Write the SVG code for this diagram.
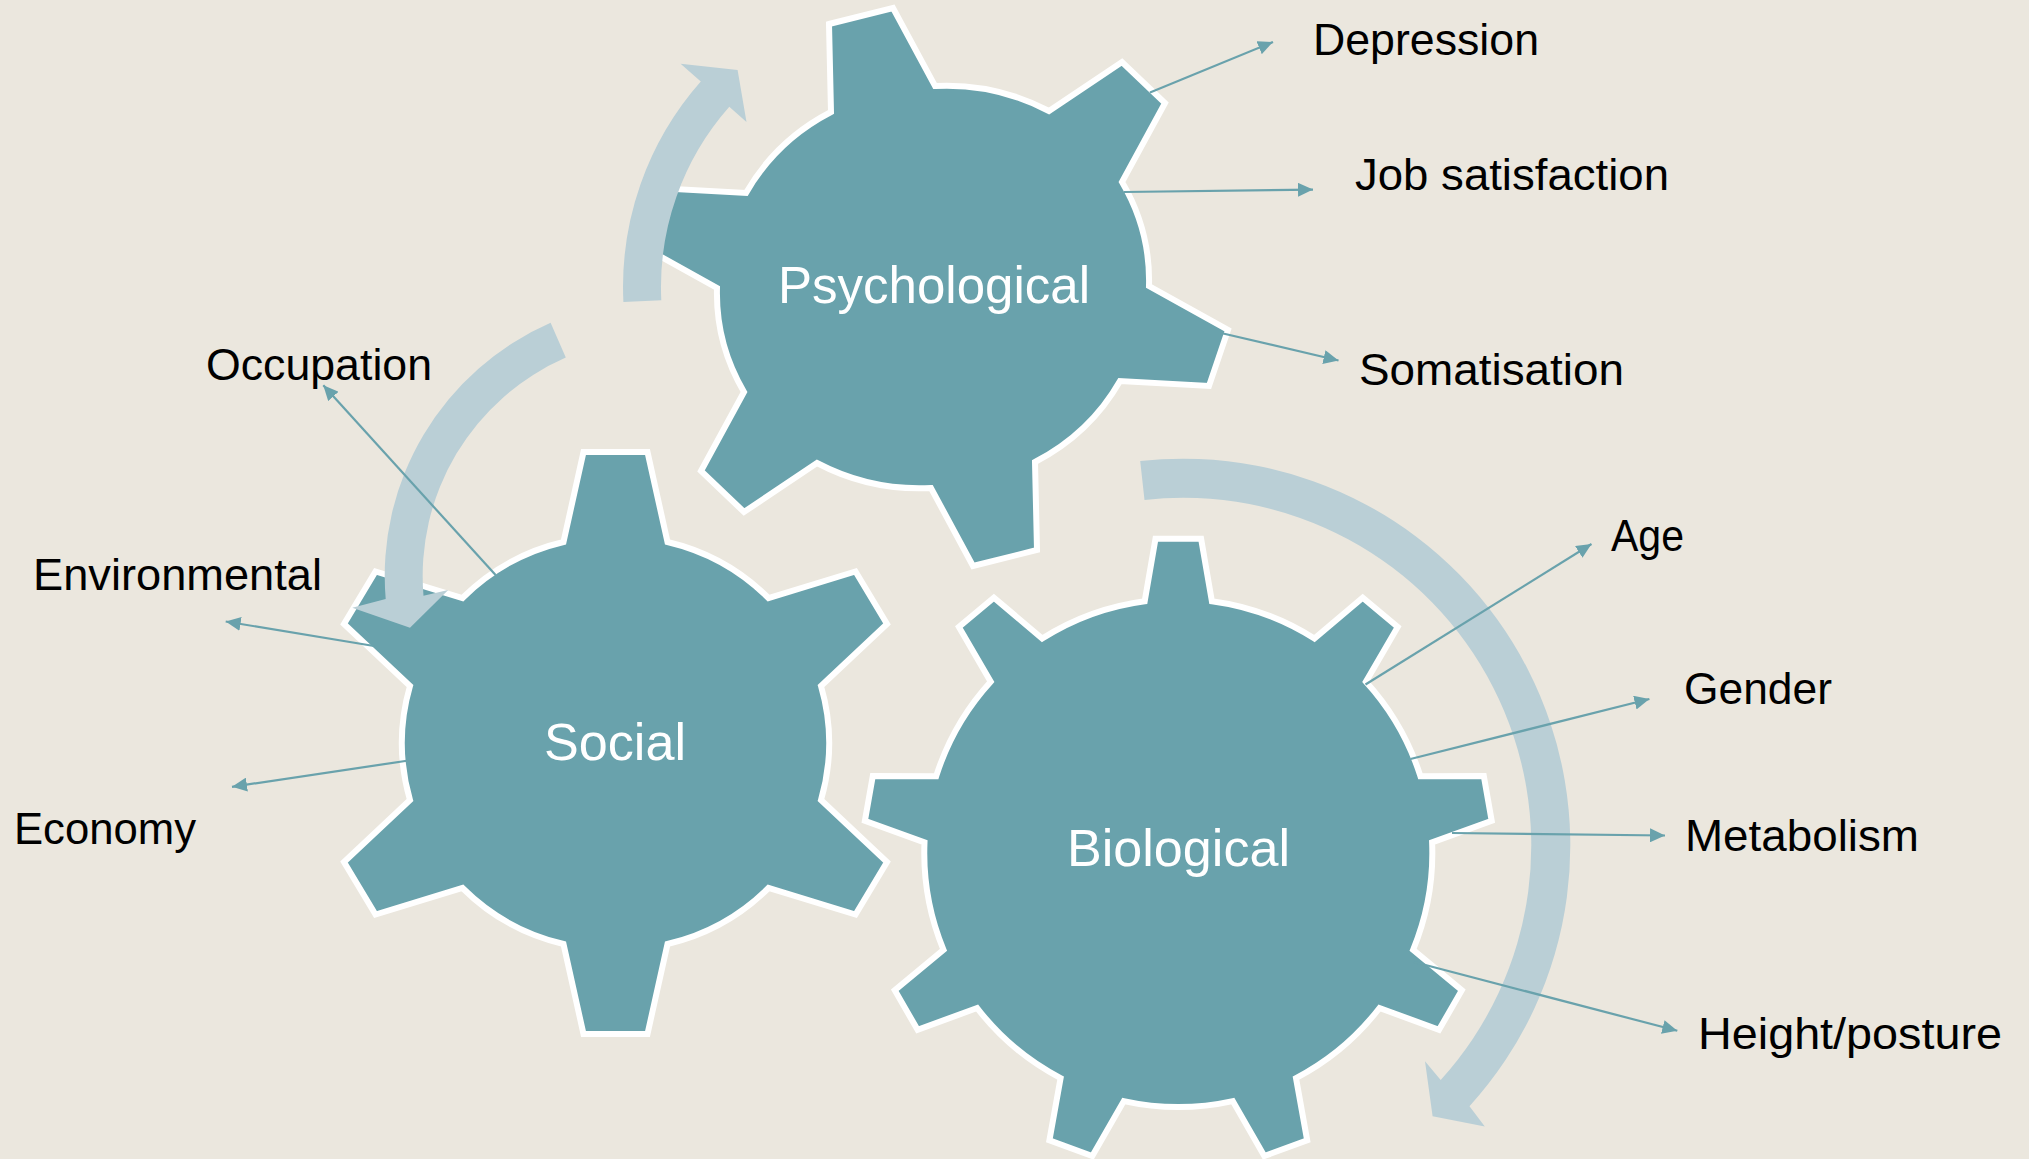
<svg xmlns="http://www.w3.org/2000/svg" width="2029" height="1159" viewBox="0 0 2029 1159">
  <style>
    .gear { fill: #69A2AC; stroke: #FFFFFF; stroke-width: 6; stroke-linejoin: miter; }
    .cycle { fill: #BACFD6; stroke: none; }
    .link { fill: none; stroke: #69A2AC; stroke-width: 2.2; marker-end: url(#tip); }
    .gear-label { font-family: "Liberation Sans", Arial, sans-serif; font-size: 52px; fill: #FFFFFF; }
    .factor { font-family: "Liberation Sans", Arial, sans-serif; font-size: 44.5px; fill: #000000; }
  </style>
  <defs>
    <marker id="tip" markerUnits="userSpaceOnUse" markerWidth="16" markerHeight="14" refX="15" refY="7" orient="auto">
      <path d="M0 0 L15 7 L0 14 Z" fill="#69A2AC"/>
    </marker>
  </defs>

  <rect x="0" y="0" width="2029" height="1159" fill="#EBE7DE"/>

  <!-- gears -->
  <g id="gear-psychological">
    <path class="gear" d="M829 24 L893 8 L935 86 A212 202 0 0 1 1049 111 L1122 62 L1165 103 L1122 182 A212 202 0 0 1 1149 286 L1228 330 L1209 386 L1120 381 A212 202 0 0 1 1035 462 L1037 550 L973 566 L931 488 A212 202 0 0 1 817 463 L744 512 L701 471 L744 392 A212 202 0 0 1 717 288 L638 244 L657 188 L746 193 A212 202 0 0 1 831 112 Z"/>
  </g>
  <g id="gear-social">
    <path class="gear" d="M583.5 452 L647.5 452 L667.5 542 A211 208 0 0 1 768.5 598 L855.5 571.5 L887 624 L821 686 A211 208 0 0 1 821 800 L887 862 L855.5 914.5 L768.5 888 A211 208 0 0 1 667.5 944 L647.5 1034 L583.5 1034 L563.5 944 A211 208 0 0 1 462.5 888 L375.5 914.5 L344 862 L410 800 A211 208 0 0 1 410 686 L344 624 L375.5 571.5 L462.5 598 A211 208 0 0 1 563.5 542 Z"/>
  </g>
  <g id="gear-biological">
    <path class="gear" d="M1155.5 538.8 L1201.1 538.8 L1211.9 601.2 A254 254 0 0 1 1314.4 638.5 L1362.7 597.6 L1397.7 627 L1365.9 681.7 A254 254 0 0 1 1420.4 776.2 L1483.8 776 L1491.7 820.9 L1432.1 842.4 A254 254 0 0 1 1413.1 949.8 L1461.8 990.3 L1439 1029.8 L1379.5 1008 A254 254 0 0 1 1296 1078.1 L1307.2 1140.4 L1264.3 1156 L1232.8 1101.1 A254 254 0 0 1 1123.8 1101.1 L1092.3 1156 L1049.4 1140.4 L1060.6 1078.1 A254 254 0 0 1 977.1 1008 L917.6 1029.8 L894.8 990.3 L943.5 949.8 A254 254 0 0 1 924.5 842.4 L864.9 820.9 L872.8 776 L936.2 776.2 A254 254 0 0 1 990.7 681.7 L958.9 627 L993.9 597.6 L1042.2 638.5 A254 254 0 0 1 1144.7 601.2 Z"/>
  </g>

  <!-- circular arrows turning the gears -->
  <g id="cycle-arrows">
    <path class="cycle" d="M623.4 302.1 A310 310 0 0 1 700.8 81.6 L680.6 63.7 L737.6 70 L746.5 122 L729.3 106.8 A272 272 0 0 0 661.3 300.3 Z"/>
    <path class="cycle" d="M550.6 322.8 A276 276 0 0 0 385.7 599 L352.3 607.8 L410 627.8 L448.2 590 L423.5 595.8 A238 238 0 0 1 565.8 357.6 Z"/>
    <path class="cycle" d="M1140.2 461.1 A387 387 0 0 1 1469.5 1106.2 L1484.8 1126.4 L1432.6 1116.3 L1425 1061.3 L1440.7 1079.9 A348 348 0 0 0 1144.5 499.9 Z"/>
  </g>

  <!-- connectors from each gear to its factors -->
  <g id="connectors">
    <path class="link" d="M1150 92.6 L1273 42"/>
    <path class="link" d="M1124 192 L1313 189.6"/>
    <path class="link" d="M1221 333 L1338.5 360.5"/>
    <path class="link" d="M495.6 575 L323.3 385.3"/>
    <path class="link" d="M374 646 L225.7 621.5"/>
    <path class="link" d="M408.5 760.5 L232 786.8"/>
    <path class="link" d="M1365.5 684.5 L1591.5 544"/>
    <path class="link" d="M1410.5 759 L1649.4 699"/>
    <path class="link" d="M1452 833 L1665 835.5"/>
    <path class="link" d="M1414 962 L1677.3 1030.8"/>
  </g>

  <!-- gear titles -->
  <g id="label-psychological"><text class="gear-label" x="778" y="303" textLength="312" lengthAdjust="spacingAndGlyphs">Psychological</text></g>
  <g id="label-social"><text class="gear-label" x="544" y="760" textLength="142" lengthAdjust="spacingAndGlyphs">Social</text></g>
  <g id="label-biological"><text class="gear-label" x="1067" y="866" textLength="223" lengthAdjust="spacingAndGlyphs">Biological</text></g>

  <!-- factor labels -->
  <g id="factor-depression"><text class="factor" x="1313" y="55" textLength="226" lengthAdjust="spacingAndGlyphs">Depression</text></g>
  <g id="factor-job-satisfaction"><text class="factor" x="1355" y="190" textLength="314" lengthAdjust="spacingAndGlyphs">Job satisfaction</text></g>
  <g id="factor-somatisation"><text class="factor" x="1359" y="385" textLength="265" lengthAdjust="spacingAndGlyphs">Somatisation</text></g>
  <g id="factor-occupation"><text class="factor" x="206" y="380" textLength="226" lengthAdjust="spacingAndGlyphs">Occupation</text></g>
  <g id="factor-environmental"><text class="factor" x="33" y="590" textLength="289" lengthAdjust="spacingAndGlyphs">Environmental</text></g>
  <g id="factor-economy"><text class="factor" x="14" y="844" textLength="182" lengthAdjust="spacingAndGlyphs">Economy</text></g>
  <g id="factor-age"><text class="factor" x="1611" y="551" textLength="73" lengthAdjust="spacingAndGlyphs">Age</text></g>
  <g id="factor-gender"><text class="factor" x="1684" y="704" textLength="148" lengthAdjust="spacingAndGlyphs">Gender</text></g>
  <g id="factor-metabolism"><text class="factor" x="1685" y="851" textLength="234" lengthAdjust="spacingAndGlyphs">Metabolism</text></g>
  <g id="factor-height-posture"><text class="factor" x="1698" y="1049" textLength="304" lengthAdjust="spacingAndGlyphs">Height/posture</text></g>
</svg>
